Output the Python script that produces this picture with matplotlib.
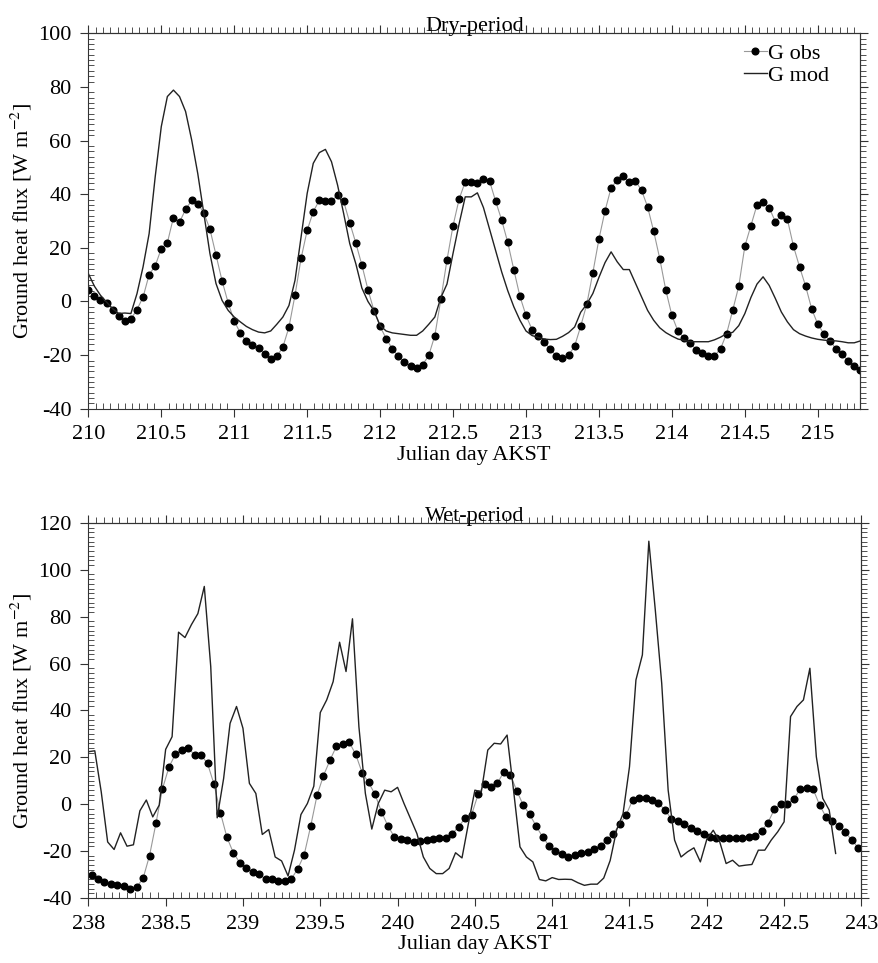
import numpy as np
import matplotlib
matplotlib.use('Agg')
import matplotlib.pyplot as plt
from matplotlib.ticker import MultipleLocator, NullFormatter

plt.rcParams['font.family'] = ['Liberation Serif', 'DejaVu Serif']
plt.rcParams['mathtext.fontset'] = 'stix'
plt.rcParams['axes.unicode_minus'] = False

# Dry period: hourly values starting at day 210.0
dry_start = 210.0
dry_obs = [4.4, 1.9, 0.7, -0.4, -3.0, -5.5, -7.3, -6.6, -3.0, 1.6,
           10.0, 13.3, 19.7, 21.9, 31.3, 29.6, 34.3, 37.7, 36.5, 33.0,
           27.0, 17.4, 7.7, -0.5, -7.3, -11.7, -14.9, -16.1, -17.3, -19.6,
           -21.3, -20.5, -17.0, -9.6, 2.4, 16.1, 26.5, 33.5, 37.7, 37.4,
           37.4, 39.6, 37.3, 29.4, 21.8, 13.6, 4.4, -3.5, -9.3, -13.9,
           -17.6, -20.5, -22.6, -24.2, -24.8, -23.6, -20.1, -12.7, 0.9, 15.5,
           28.3, 38.2, 44.6, 44.6, 44.1, 45.7, 44.9, 37.4, 30.3, 22.0,
           11.8, 1.9, -5.2, -10.5, -13.0, -15.1, -17.8, -20.3, -21.1, -20.1,
           -16.6, -9.2, -1.0, 10.8, 23.3, 33.8, 42.4, 45.2, 46.8, 44.4,
           44.9, 41.5, 35.3, 26.2, 16.0, 4.2, -5.2, -11.1, -13.6, -15.4,
           -18.0, -19.2, -20.3, -20.3, -17.6, -12.0, -3.3, 5.7, 20.6, 28.3,
           36.0, 37.1, 35.0, 29.8, 32.2, 30.6, 20.6, 12.9, 5.7, -2.8,
           -8.5, -12.0, -14.7, -17.6, -19.7, -22.1, -24.2, -25.4]
dry_mod = [10.4, 5.7, 2.3, -0.2, -2.7, -4.5, -4.3, -4.5, 2.9, 12.9,
           25.3, 46.5, 65.2, 76.4, 78.8, 76.4, 70.8, 60.2, 47.7, 32.8,
           17.9, 6.7, 0.4, -3.3, -5.8, -7.6, -9.3, -10.5, -11.4, -11.7,
           -11.0, -8.5, -5.8, -1.5, 7.9, 24.1, 40.3, 51.5, 55.5, 56.7,
           52.1, 43.4, 32.8, 21.6, 14.1, 5.0, 0.0, -3.5, -9.0, -11.0,
           -11.7, -12.0, -12.3, -12.6, -12.6, -11.0, -8.5, -5.8, 1.5, 6.5,
           18.0, 29.0, 39.0, 39.0, 40.5, 35.0, 27.0, 19.0, 11.0, 4.0,
           -2.0, -7.0, -11.0, -12.7, -13.4, -14.0, -14.2, -14.1, -13.0, -11.6,
           -9.5, -4.0, -1.0, 3.0, 9.0, 14.5, 18.5, 14.8, 11.9, 11.9,
           6.8, 1.7, -3.3, -7.0, -9.8, -11.6, -12.9, -14.0, -14.5, -15.0,
           -15.0, -15.0, -15.0, -14.3, -13.3, -12.0, -11.5, -9.0, -4.5, 1.5,
           6.5, 9.2, 6.0, 1.2, -3.9, -7.6, -10.5, -12.0, -12.9, -13.6,
           -14.1, -14.4, -14.6, -14.7, -15.0, -15.4, -15.4, -14.7]

# Wet period: obs at half-hour centres, model on the hour, from day 238.0
wet_start = 238.0
wet_obs = [-30.4, -32.0, -33.3, -34.1, -34.6, -34.7, -36.1, -35.4, -31.6, -21.9,
           -8.1, 6.5, 15.7, 21.3, 23.1, 24.0, 21.0, 21.0, 17.4, 8.6,
           -3.6, -14.0, -20.7, -24.9, -27.3, -28.9, -29.9, -31.9, -32.0, -32.7,
           -32.8, -31.9, -27.6, -21.6, -9.5, 3.8, 12.2, 18.7, 24.7, 25.7,
           26.4, 21.3, 13.4, 9.3, 4.2, -3.2, -9.3, -13.9, -14.9, -15.3,
           -16.0, -15.6, -15.3, -14.9, -14.6, -14.2, -12.5, -9.6, -5.8, -4.4,
           4.2, 8.5, 7.2, 8.9, 13.9, 12.5, 5.8, -0.4, -4.3, -9.3,
           -13.9, -17.7, -19.9, -21.3, -22.5, -21.7, -21.0, -20.3, -18.9, -17.7,
           -15.3, -12.5, -8.5, -4.4, 1.8, 2.5, 2.5, 1.8, 0.6, -2.6,
           -6.1, -7.2, -8.6, -10.3, -11.5, -12.9, -13.9, -14.3, -14.3, -14.3,
           -14.3, -14.3, -13.9, -13.5, -11.5, -7.8, -2.1, 0.3, 0.3, 2.1,
           6.5, 6.8, 6.5, -0.3, -5.4, -7.1, -9.2, -12.0, -15.3, -18.5]
wet_mod = [22.4, 22.8, 5.3, -16.1, -19.3, -12.2, -17.9, -17.3, -2.8, 1.8,
           -5.4, -0.4, 23.4, 28.8, 73.4, 71.1, 76.6, 81.3, 92.9, 58.7,
           -5.8, 11.0, 34.5, 41.7, 32.4, 8.9, 4.6, -12.9, -10.8, -22.5,
           -24.2, -30.6, -19.6, -4.4, 0.3, 7.7, 39.1, 44.5, 52.3, 69.1,
           56.6, 79.1, 33.0, 4.6, -10.6, 0.3, 6.0, 5.3, 7.2, 0.3,
           -6.1, -12.5, -22.5, -27.4, -29.6, -29.6, -27.4, -20.7, -22.9, -8.2,
           6.0, 5.3, 23.1, 26.0, 25.7, 29.5, 6.0, -18.2, -22.5, -24.6,
           -32.1, -32.7, -31.3, -32.1, -32.0, -32.1, -33.5, -34.6, -34.1, -34.1,
           -31.5, -24.0, -11.0, -4.0, 16.0, 53.0, 63.7, 112.2, 83.0, 51.6,
           6.0, -15.3, -22.5, -20.3, -18.6, -24.6, -15.0, -11.1, -16.0, -25.3,
           -23.9, -26.4, -26.0, -25.7, -19.6, -19.6, -15.3, -11.8, -7.5, 37.4,
           41.7, 44.5, 58.0, 20.3, 2.5, -2.5, -21.0]

dry_t_obs = dry_start + np.arange(len(dry_obs)) / 24.0
dry_t_mod = dry_start + np.arange(len(dry_mod)) / 24.0
wet_t_obs = wet_start + (np.arange(len(wet_obs)) + 0.5) / 24.0
wet_t_mod = wet_start + np.arange(len(wet_mod)) / 24.0

fig = plt.figure(figsize=(8.79, 9.63), dpi=100)
ax1 = fig.add_axes([0.1005, 0.5755, 0.878, 0.39])
ax2 = fig.add_axes([0.1005, 0.0675, 0.8795, 0.3895])

FS = 16
AX_COL = '#333333'


def style_axis(ax, xlim, ylim, ystep):
    ax.set_xlim(*xlim)
    ax.set_ylim(*ylim)
    for axis, step in ((ax.xaxis, 0.5), (ax.yaxis, ystep)):
        axis.set_major_locator(MultipleLocator(step))
        axis.set_minor_locator(MultipleLocator(step / 10))
    ax.tick_params(which='both', top=False, right=False, labelsize=FS,
                   colors=AX_COL, labelcolor='black', pad=6)
    ax.tick_params(which='major', direction='out', length=6, width=0.8)
    ax.tick_params(which='minor', direction='in', length=4, width=0.6)
    ax.xaxis.set_major_formatter(plt.FuncFormatter(lambda v, p: f'{v:g}'))
    for s in ax.spines.values():
        s.set_linewidth(0.8)
        s.set_color(AX_COL)
    # top and right ticks all point outward
    top = ax.secondary_xaxis('top')
    right = ax.secondary_yaxis('right')
    for sec, axis, step in ((top, top.xaxis, 0.5), (right, right.yaxis, ystep)):
        axis.set_major_locator(MultipleLocator(step))
        axis.set_minor_locator(MultipleLocator(step / 10))
        axis.set_major_formatter(NullFormatter())
        sec.tick_params(which='both', direction='out', colors=AX_COL)
        sec.tick_params(which='major', length=6, width=0.8)
        sec.tick_params(which='minor', length=4, width=0.6)
        for s in sec.spines.values():
            s.set_linewidth(0.8)
            s.set_color(AX_COL)
    ax.set_xlabel('Julian day AKST', fontsize=FS, labelpad=1)
    ax.set_ylabel('Ground heat flux [W m$^{-2}$]', fontsize=FS, labelpad=3)


# Dry period
ax1.plot(dry_t_obs, dry_obs, color='#999999', lw=0.8, marker='o', ms=4.8,
         mfc='black', mec='black', label='G obs')
ax1.plot(dry_t_mod, dry_mod, color='#222222', lw=1.0, label='G mod')
style_axis(ax1, (210, 215.29), (-40, 100), 20)
ax1.text(0.5, 1.006, 'Dry-period', transform=ax1.transAxes, ha='center',
         va='baseline', fontsize=FS)
ax1.legend(loc='upper right', frameon=False, fontsize=FS, handlelength=1.0,
           handletextpad=0.05, borderaxespad=0.0, borderpad=0.2,
           labelspacing=0.05, bbox_to_anchor=(0.965, 0.985))

# Wet period
ax2.plot(wet_t_obs, wet_obs, color='#999999', lw=0.8, marker='o', ms=4.8,
         mfc='black', mec='black')
ax2.plot(wet_t_mod, wet_mod, color='#222222', lw=1.0)
style_axis(ax2, (238, 243), (-40, 120), 20)
ax2.text(0.5, 1.006, 'Wet-period', transform=ax2.transAxes, ha='center',
         va='baseline', fontsize=FS)

fig.savefig('out.png', dpi=100)
